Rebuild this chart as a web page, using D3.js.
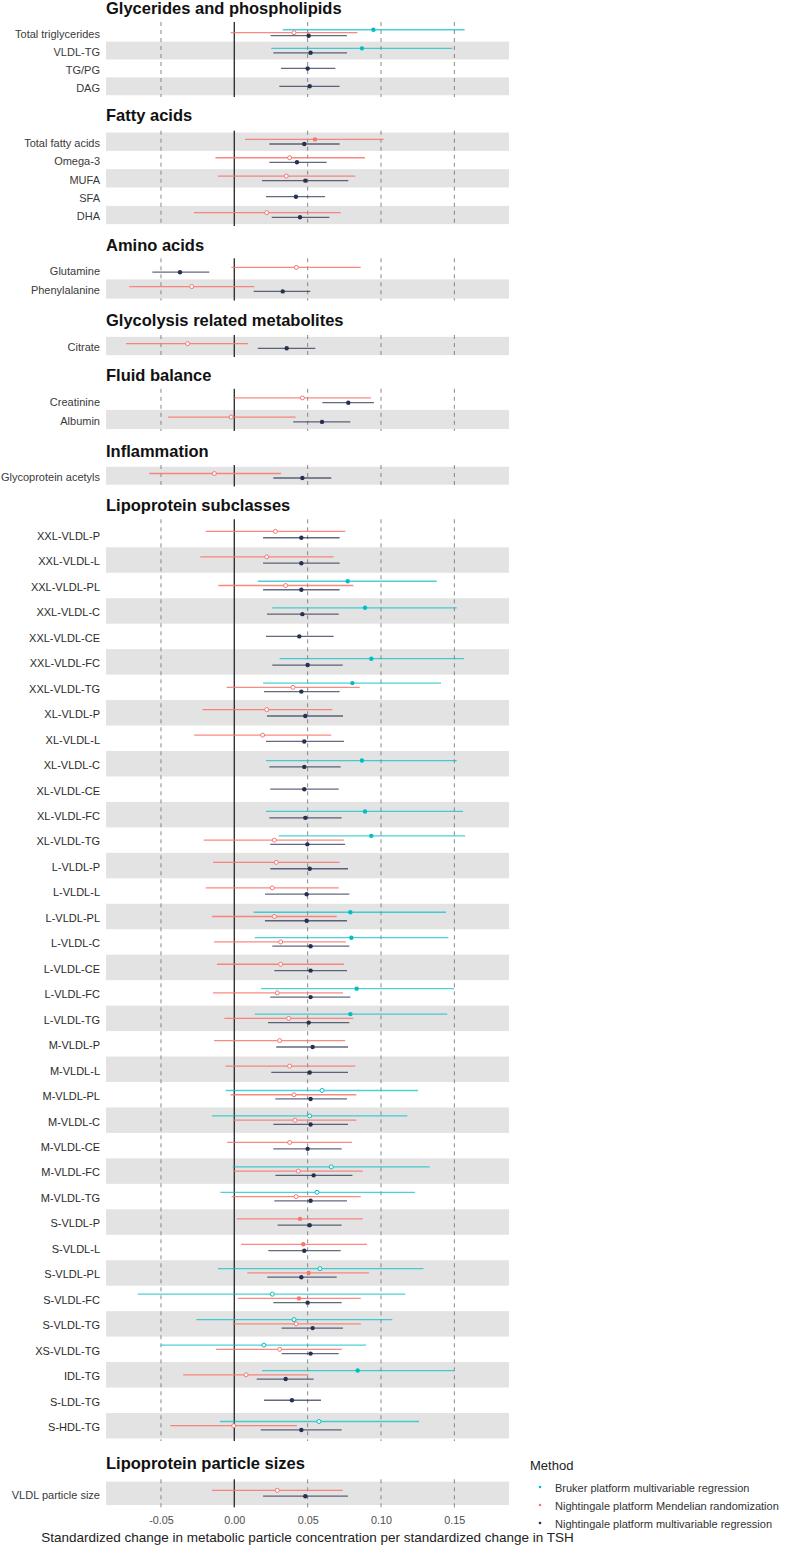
<!DOCTYPE html>
<html>
<head>
<meta charset="utf-8">
<script src="https://cdn.jsdelivr.net/npm/d3@7"></script>
<style>
  html, body { margin: 0; padding: 0; background: #fff; }
  svg { display: block; font-family: "Liberation Sans", Arial, sans-serif; }
</style>
</head>
<body>
<svg id="chart" width="787" height="1547"></svg>
<script>
// ---------------- DATA ----------------
const sectionTitles = [
  "Glycerides and phospholipids", "Fatty acids", "Amino acids",
  "Glycolysis related metabolites", "Fluid balance", "Inflammation",
  "Lipoprotein subclasses", "Lipoprotein particle sizes"
];
const sectionSizes = [4, 5, 2, 1, 2, 1, 36, 1];

const metabolites = [
  "Total triglycerides", "VLDL-TG", "TG/PG", "DAG",
  "Total fatty acids", "Omega-3", "MUFA", "SFA", "DHA",
  "Glutamine", "Phenylalanine",
  "Citrate",
  "Creatinine", "Albumin",
  "Glycoprotein acetyls",
  "XXL-VLDL-P", "XXL-VLDL-L", "XXL-VLDL-PL", "XXL-VLDL-C", "XXL-VLDL-CE", "XXL-VLDL-FC", "XXL-VLDL-TG",
  "XL-VLDL-P", "XL-VLDL-L", "XL-VLDL-C", "XL-VLDL-CE", "XL-VLDL-FC", "XL-VLDL-TG",
  "L-VLDL-P", "L-VLDL-L", "L-VLDL-PL", "L-VLDL-C", "L-VLDL-CE", "L-VLDL-FC", "L-VLDL-TG",
  "M-VLDL-P", "M-VLDL-L", "M-VLDL-PL", "M-VLDL-C", "M-VLDL-CE", "M-VLDL-FC", "M-VLDL-TG",
  "S-VLDL-P", "S-VLDL-L", "S-VLDL-PL", "S-VLDL-FC", "S-VLDL-TG",
  "XS-VLDL-TG", "IDL-TG", "S-LDL-TG", "S-HDL-TG",
  "VLDL particle size"
];

const methods = [
  "Bruker platform multivariable regression",
  "Nightingale platform Mendelian randomization",
  "Nightingale platform multivariable regression"
];

// Bruker platform multivariable regression
const brukerEst = [0.0948, 0.087, null, null, null, null, null, null, null, null, null, null, null, null, null,
  null, null, 0.0773, 0.0891, null, 0.0934, 0.0805,
  null, null, 0.087, null, 0.0891, 0.0934,
  null, null, 0.0791, 0.0798, null, 0.0834, 0.0791,
  null, null, 0.0598, 0.0514, null, 0.0661, 0.0564,
  null, null, 0.0584, 0.0259, 0.0407,
  0.0202, 0.0841, null, 0.0577, null];
const brukerLo = [0.033, 0.0252, null, null, null, null, null, null, null, null, null, null, null, null, null,
  null, null, 0.016, 0.0259, null, 0.0309, 0.0196,
  null, null, 0.0216, null, 0.0216, 0.0302,
  null, null, 0.0132, 0.0139, null, 0.0182, 0.0139,
  null, null, -0.0059, -0.0152, null, -0.0011, -0.0095,
  null, null, -0.0111, -0.0659, -0.0259,
  -0.05, 0.0189, null, -0.0098, null];
const brukerHi = [0.157, 0.1486, null, null, null, null, null, null, null, null, null, null, null, null, null,
  null, null, 0.138, 0.1516, null, 0.1566, 0.1409,
  null, null, 0.1516, null, 0.1559, 0.1573,
  null, null, 0.1443, 0.1459, null, 0.1498, 0.1452,
  null, null, 0.1252, 0.118, null, 0.1332, 0.1232,
  null, null, 0.1289, 0.1166, 0.1077,
  0.0898, 0.1498, null, 0.1259, null];
const brukerSig = [1, 1, 0, 0, 0, 0, 0, 0, 0, 0, 0, 0, 0, 0, 0,
  0, 0, 1, 1, 0, 1, 1,
  0, 0, 1, 0, 1, 1,
  0, 0, 1, 1, 0, 1, 1,
  0, 0, 0, 0, 0, 0, 0,
  0, 0, 0, 0, 0,
  0, 1, 0, 0, 0];

// Nightingale platform Mendelian randomization
const mrEst = [0.0407, null, null, null, 0.055, 0.0377, 0.0354, null, 0.0221, 0.0423, -0.029, -0.0318, 0.0464, -0.0022, -0.0136,
  0.028, 0.0221, 0.035, null, null, null, 0.04,
  0.0221, 0.0193, null, null, null, 0.0273,
  0.0286, 0.0259, 0.0273, 0.0316, 0.0316, 0.0293, 0.0371,
  0.0309, 0.0377, 0.0407, 0.0414, 0.0377, 0.0436, 0.0421,
  0.0448, 0.047, 0.0507, 0.0441, 0.0421,
  0.0309, 0.008, null, -0.0004, 0.0293];
const mrLo = [-0.0025, null, null, null, 0.0073, -0.0129, -0.0111, null, -0.0275, -0.002, -0.0716, -0.0738, 0.0, -0.0452, -0.058,
  -0.0195, -0.0232, -0.0109, null, null, null, -0.0052,
  -0.0216, -0.0273, null, null, null, -0.0209,
  -0.0145, -0.0195, -0.0152, -0.0138, -0.0118, -0.0145, -0.0068,
  -0.0138, -0.0059, -0.0025, -0.0005, -0.0048, -0.0005, -0.0018,
  0.0016, 0.0046, 0.0089, 0.0025, -0.0011,
  -0.0125, -0.0348, null, -0.0436, -0.0152];
const mrHi = [0.084, null, null, null, 0.1018, 0.0891, 0.0825, null, 0.0725, 0.0862, 0.0136, 0.0093, 0.0932, 0.0418, 0.0318,
  0.0757, 0.0677, 0.0811, null, null, null, 0.0855,
  0.0668, 0.0661, null, null, null, 0.0746,
  0.0718, 0.0712, 0.0698, 0.0761, 0.0748, 0.0741, 0.0811,
  0.0755, 0.0825, 0.0832, 0.0832, 0.0802, 0.0875, 0.0862,
  0.0875, 0.0905, 0.0918, 0.0862, 0.0862,
  0.0732, 0.0505, null, 0.0427, 0.0739];
const mrSig = [0, 0, 0, 0, 1, 0, 0, 0, 0, 0, 0, 0, 0, 0, 0,
  0, 0, 0, 0, 0, 0, 0,
  0, 0, 0, 0, 0, 0,
  0, 0, 0, 0, 0, 0, 0,
  0, 0, 0, 0, 0, 0, 0,
  1, 1, 1, 1, 0,
  0, 0, 0, 0, 0];

// Nightingale platform multivariable regression
const nmrEst = [0.0507, 0.052, 0.050, 0.0514, 0.0477, 0.0427, 0.0484, 0.042, 0.0448, -0.037, 0.033, 0.0357, 0.0777, 0.0598, 0.0464,
  0.0457, 0.0457, 0.0457, 0.0464, 0.0443, 0.050, 0.0457,
  0.0484, 0.0477, 0.0477, 0.0477, 0.0484, 0.0498,
  0.0514, 0.0493, 0.0493, 0.052, 0.052, 0.052, 0.0507,
  0.0534, 0.0514, 0.052, 0.052, 0.050, 0.0541, 0.052,
  0.0514, 0.0477, 0.0457, 0.050, 0.0534,
  0.052, 0.035, 0.0393, 0.0457, 0.0484];
const nmrLo = [0.0248, 0.0266, 0.0318, 0.0307, 0.0239, 0.0239, 0.0189, 0.0216, 0.0255, -0.0559, 0.0132, 0.016, 0.06, 0.0402, 0.0266,
  0.0196, 0.0196, 0.0196, 0.0223, 0.0216, 0.0259, 0.0202,
  0.0223, 0.0216, 0.0239, 0.0245, 0.0239, 0.0245,
  0.0245, 0.0209, 0.0209, 0.0259, 0.0273, 0.0245, 0.023,
  0.0286, 0.0252, 0.028, 0.0266, 0.0266, 0.028, 0.0273,
  0.0295, 0.0232, 0.0225, 0.0266, 0.0323,
  0.0323, 0.0153, 0.0202, 0.018, 0.0196];
const nmrHi = [0.0768, 0.0768, 0.0689, 0.0718, 0.0718, 0.063, 0.0777, 0.0618, 0.0648, -0.017, 0.0518, 0.0552, 0.0952, 0.0791, 0.0661,
  0.0718, 0.0718, 0.0718, 0.0712, 0.0677, 0.0739, 0.0718,
  0.0741, 0.0748, 0.0725, 0.0712, 0.0732, 0.0755,
  0.0775, 0.0784, 0.0768, 0.0784, 0.0768, 0.0791, 0.0784,
  0.0775, 0.0775, 0.0768, 0.0775, 0.0732, 0.0805, 0.0768,
  0.0732, 0.0725, 0.0698, 0.0732, 0.0741,
  0.0712, 0.0541, 0.0591, 0.0732, 0.0775];

const tickValues = [-0.05, 0.00, 0.05, 0.10, 0.15];
const tickLabels = ["-0.05", "0.00", "0.05", "0.10", "0.15"];
const xTitle = "Standardized change in metabolic particle concentration per standardized change in TSH";

// ---------------- LAYOUT / STYLE ----------------
const panelLeft = 106, panelRight = 509;
const panelBounds = [[22, 97], [130.7, 226], [258.3, 300.5], [335, 357], [388.8, 431], [465, 486.5], [519.3, 1441], [1479.3, 1507.3]];
const titleBaselines = [14, 121, 251, 325.5, 380.5, 456.5, 510.5, 1468.5];
const colors = ["#00BFC4", "#F8766D", "#27314F"];
const lineOpacity = [0.7, 0.85, 0.72];

const svg = d3.select("#chart");
svg.append("rect").attr("width", 787).attr("height", 1547).attr("fill", "#fff");

const x = d3.scaleLinear().domain([-0.08746, 0.18725]).range([panelLeft, panelRight]);

const series = [
  { est: brukerEst, lo: brukerLo, hi: brukerHi, sig: brukerSig },
  { est: mrEst, lo: mrLo, hi: mrHi, sig: mrSig },
  { est: nmrEst, lo: nmrLo, hi: nmrHi, sig: null }
];

let start = 0;
sectionTitles.forEach((title, s) => {
  const n = sectionSizes[s];
  const labels = metabolites.slice(start, start + n);
  const [top, bottom] = panelBounds[s];
  const y = d3.scalePoint().domain(labels).range([top, bottom]).padding(0.6);
  const step = y.step();
  const g = svg.append("g");

  // bands (odd rows counted from bottom)
  labels.forEach((lab, i) => {
    if ((n - 1 - i) % 2 === 0) {
      g.append("rect")
        .attr("x", panelLeft).attr("width", panelRight - panelLeft)
        .attr("y", y(lab) - step / 2).attr("height", step)
        .attr("fill", "#E3E3E3");
    }
  });

  // grid lines
  tickValues.forEach(t => {
    g.append("line")
      .attr("x1", x(t)).attr("x2", x(t)).attr("y1", top).attr("y2", bottom)
      .attr("stroke", t === 0 ? "#333" : "#7a7a7a")
      .attr("stroke-width", t === 0 ? 1.4 : 0.9)
      .attr("stroke-dasharray", t === 0 ? null : "4,4");
  });

  // title
  svg.append("text").attr("x", panelLeft).attr("y", titleBaselines[s])
    .attr("font-size", 16.5).attr("font-weight", "bold").attr("fill", "#111")
    .text(title);

  // labels
  labels.forEach(lab => {
    g.append("text").attr("x", 100).attr("y", y(lab) + 1.5)
      .attr("dy", "0.35em").attr("text-anchor", "end")
      .attr("font-size", 11).attr("fill", s === 6 ? "#2a2a2a" : "#3a3a3a")
      .text(lab);
  });

  // data
  labels.forEach((lab, i) => {
    const idx = start + i;
    const present = [0, 1, 2].filter(k => series[k].est[idx] !== null);
    const m = present.length;
    const w = 0.5 * step;
    present.forEach((k, j) => {
      const off = (-(m - 1) / 2 + j) * (w / m);
      const cy = y(lab) + off;
      const d = series[k];
      g.append("line")
        .attr("x1", x(d.lo[idx])).attr("x2", x(d.hi[idx]))
        .attr("y1", cy).attr("y2", cy)
        .attr("stroke", colors[k]).attr("stroke-opacity", lineOpacity[k])
        .attr("stroke-width", 1.3);
      const filled = k === 2 || d.sig[idx] === 1;
      g.append("circle")
        .attr("cx", x(d.est[idx])).attr("cy", cy)
        .attr("r", filled ? 2.2 : 2)
        .attr("fill", filled ? colors[k] : "#fff")
        .attr("stroke", colors[k]).attr("stroke-width", filled ? 0 : 1);
    });
  });

  start += n;
});

// x axis
const axisG = svg.append("g").attr("transform", "translate(0,1514)")
  .call(d3.axisBottom(x).tickValues(tickValues).tickSize(0)
    .tickFormat((d, i) => tickLabels[i]));
axisG.select(".domain").remove();
axisG.selectAll("text").attr("font-size", 10.8).attr("fill", "#4D4D4D")
  .attr("font-family", "Liberation Sans, Arial, sans-serif").attr("dy", "0.71em").attr("y", 2);

svg.append("text").attr("x", (panelLeft + panelRight) / 2).attr("y", 1541.5)
  .attr("text-anchor", "middle").attr("font-size", 13.5).attr("fill", "#222")
  .text(xTitle);

// legend
const leg = svg.append("g");
leg.append("text").attr("x", 530).attr("y", 1469.5).attr("font-size", 13).attr("fill", "#222").text("Method");
methods.forEach((mname, i) => {
  const cy = 1488 + i * 18;
  leg.append("circle").attr("cx", 540).attr("cy", cy - 1).attr("r", 1.3).attr("fill", colors[i]);
  leg.append("text").attr("x", 555).attr("y", cy).attr("dy", "0.35em")
    .attr("font-size", 11).attr("fill", "#333").text(mname);
});
</script>
</body>
</html>
